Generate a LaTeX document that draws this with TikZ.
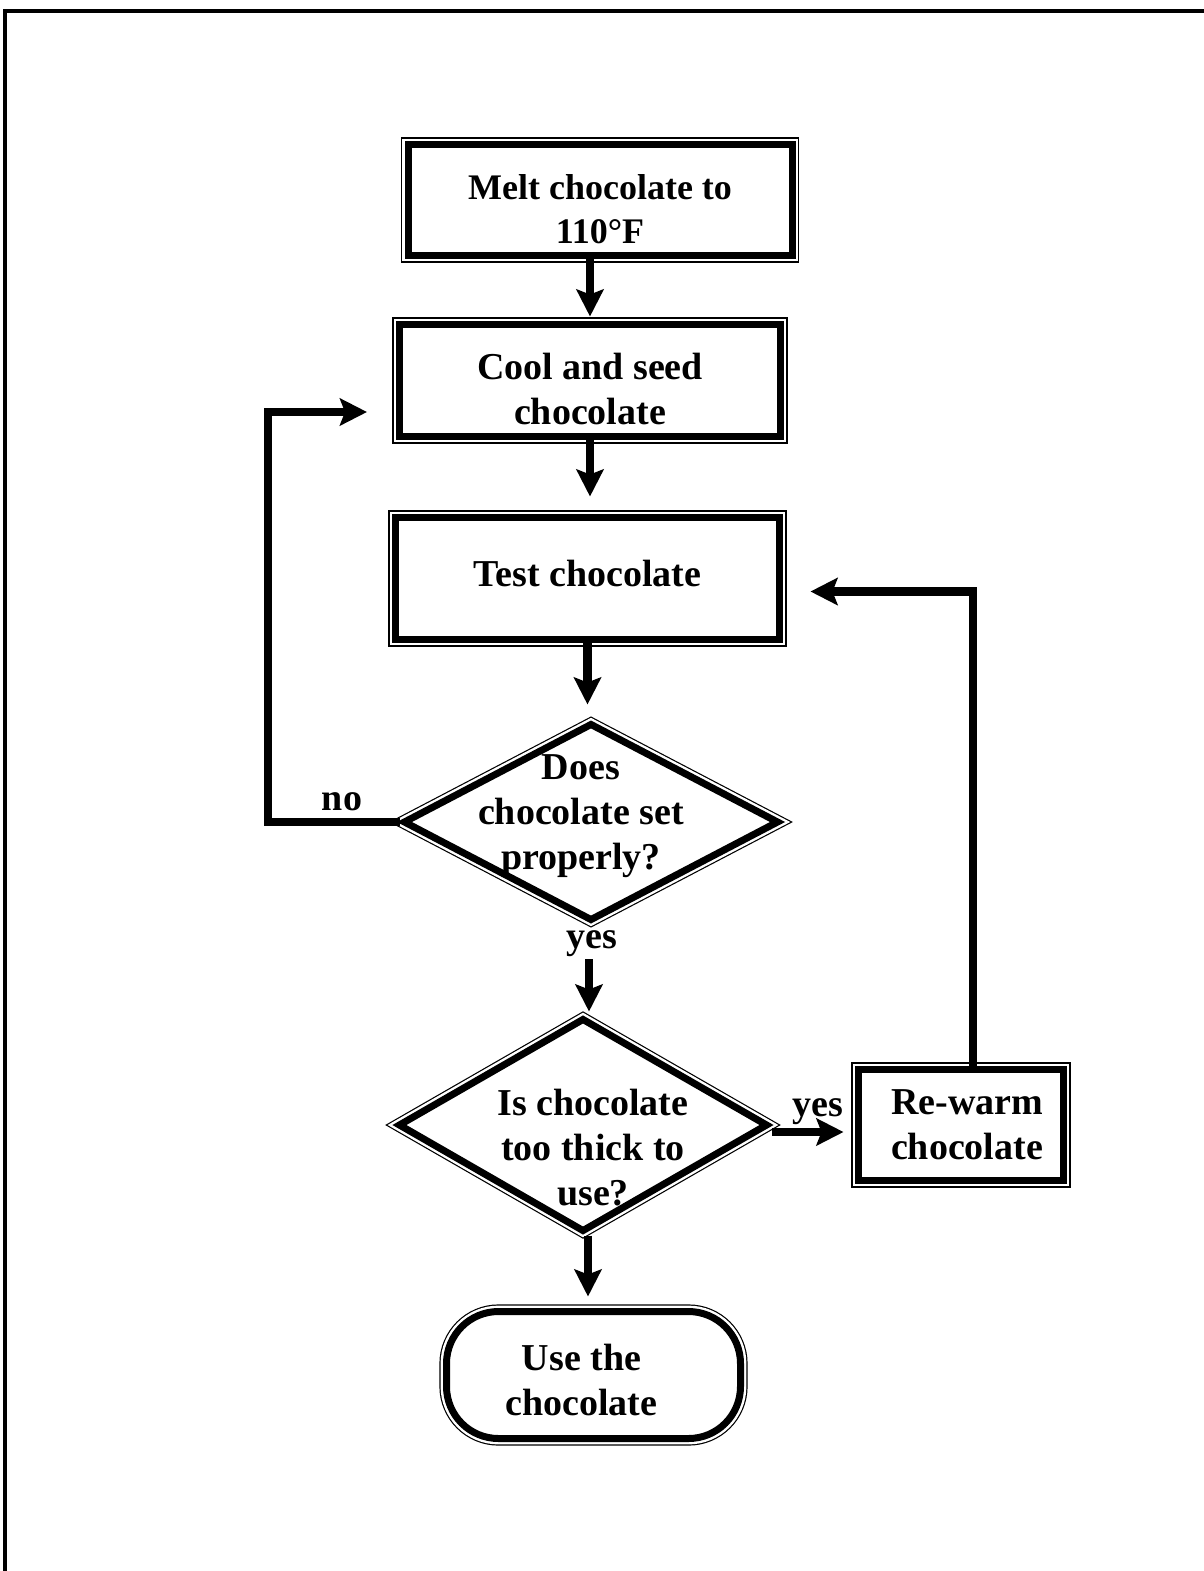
\documentclass[tikz,border=0pt]{standalone}
\usepackage{fontspec}
\setmainfont{Liberation Serif}
\usetikzlibrary{arrows.meta,shapes.geometric}

\begin{document}
\begin{tikzpicture}[
  x=0.5pt, y=-0.5pt,
  every node/.style={font=\bfseries\fontsize{19}{22.5}\selectfont, align=center},
  dbl/.style={
    fill=white, draw=black, line width=3.5pt,
    preaction={draw=black, line width=7.1pt},
    preaction={draw=white, line width=5.9pt}
  },
  stepbox/.style={dbl, rectangle, inner sep=2pt},
  decide/.style={dbl, diamond, inner sep=0pt},
  finish/.style={dbl, rectangle, rounded corners=26pt, inner sep=2pt},
  lbl/.style={inner sep=1pt},
  arr/.style={-{Stealth[length=13.5pt, width=13.5pt, inset=2.5pt]}, line width=4.2pt},
  pageframe/.style={line width=2pt}
]
  \useasboundingbox (0,0) rectangle (1204,1571);
  \draw[pageframe] (5,1571) |- (1204,11);

  \node[stepbox, minimum width=192pt, minimum height=55.5pt,
        font=\bfseries\fontsize{18}{22}\selectfont] (melt) at (600,200) {\rule{0pt}{22pt}Melt chocolate to\\110°F};
  \node[stepbox, minimum width=190.5pt, minimum height=56pt] (cool) at (590,380.5) {\rule{0pt}{22pt}Cool and seed\\chocolate};
  \node[stepbox, minimum width=192pt, minimum height=61pt] (test) at (587.5,578.5) {Test chocolate\rule[-5pt]{0pt}{5pt}};

  \node[decide, minimum width=188pt, minimum height=99pt] (q1) at (591,822) {};
  \node (q1text) at (581,816.5) {Does\\chocolate set\\properly?};
  \node[decide, minimum width=185pt, minimum height=107pt] (q2) at (583,1125) {};
  \node (q2text) at (593,1147.5) {Is chocolate\\too thick to\\use?};

  \node[stepbox, minimum width=102.5pt, minimum height=55.5pt] (rewarm) at (961,1125) {Re-warm\hspace*{-6pt}\\chocolate\hspace*{-6pt}};
  \node[finish, minimum width=147pt, minimum height=63.5pt] (use) at (593.5,1375) {\rule{0pt}{18pt}Use the\hspace*{12pt}\\chocolate\hspace*{12pt}};

  \node[lbl] (no)   at (342,802)  {no};
  \node[lbl] (yes1) at (592,944)  {yes};
  \node[lbl] (yes2) at (818,1112) {yes};
  \coordinate (noturn) at (268,822);

  \draw[arr, shorten >=2.25pt] (melt.south -| cool.north) -- (cool.north);
  \draw[arr, shorten >=8.75pt] (cool.south) -- (cool.south |- test.north);
  \draw[arr, shorten >=7.5pt]  (test.south) -- (test.south |- q1.north);
  \draw[arr, shorten >=1.5pt]  ([xshift=3pt]q2.north |- yes1.south) -- ([xshift=3pt]q2.north);
  \draw[arr, shorten >=5.75pt] ([xshift=2.5pt]q2.south) -- ([xshift=2.5pt]q2.south |- use.north);
  \draw[arr, shorten >=5.75pt] ([yshift=-3.5pt]q2.east) -- ([yshift=-3.5pt]rewarm.west);
  \draw[arr, shorten >=13.75pt] ([xshift=6pt]rewarm.north) |- ([yshift=-6.5pt]test.east);
  \draw[arr, shorten >=14.5pt] (q1.west) -- (noturn) |- ([yshift=-15.75pt]cool.west);
\end{tikzpicture}
\end{document}
